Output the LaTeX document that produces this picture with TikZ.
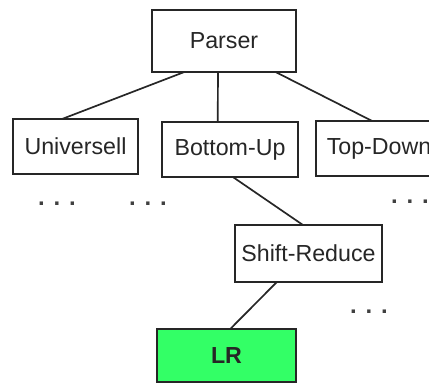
\documentclass[tikz,border=0pt]{standalone}
\usepackage{fontspec}
\setmainfont{Liberation Sans}
\tikzset{>=stealth}
\tikzset{
	box/.style={draw=black!85, line width=1.2pt, outer sep=0pt, inner sep=0pt, fill=white, text=black!85, font=\fontsize{16.5}{20}\selectfont},
	dots/.style={anchor=base, text=black!75, font=\fontsize{17}{20}\selectfont\bfseries},
	link/.style={draw=black!85, line width=1.2pt},
}
\definecolor{lrgreen}{RGB}{51,255,102}

\begin{document}
\begin{tikzpicture}[x=0.025cm, y=-0.025cm]
	\clip (0,0) rectangle (429,383);
	\fill[white] (0,0) rectangle (429,383);
	\node[box, minimum width=3.6cm, minimum height=1.55cm] (parser) at (224,41) {Parser};
	\node[box, minimum width=3.125cm, minimum height=1.375cm] (univ) at (75.5,146.5) {Universell};
	\node[box, minimum width=3.4cm, minimum height=1.375cm] (bottomup) at (230,149.5) {Bottom-Up};
	\node[box, minimum width=3.15cm, minimum height=1.375cm] (topdown) at (379,148.5) {Top-Down};
	\node[box, minimum width=3.675cm, minimum height=1.425cm] (shiftred) at (308.5,253.5) {Shift-Reduce};
	\node[box, fill=lrgreen, font=\fontsize{16.5}{20}\selectfont\bfseries, minimum width=3.475cm, minimum height=1.325cm] (lr) at (226.5,355.5) {LR};
	% ...
	\node[dots] (dotsa) at (57,205) {. . .};
	\node[dots] (dotsb) at (148,205) {. . .};
	\node[dots] (dotsc) at (410,203) {. . .};
	\node[dots] (dotsd) at (369,313) {. . .};
	\draw[link] (parser.218) -- (univ.116);
	\draw[link] (parser.259) -- (bottomup.114);
	\draw[link] (parser.329) -- (topdown.104);
	\draw[link] (bottomup.276) -- (shiftred.101);
	\draw[link] (shiftred.222) -- (lr.82);
\end{tikzpicture}
\end{document}
